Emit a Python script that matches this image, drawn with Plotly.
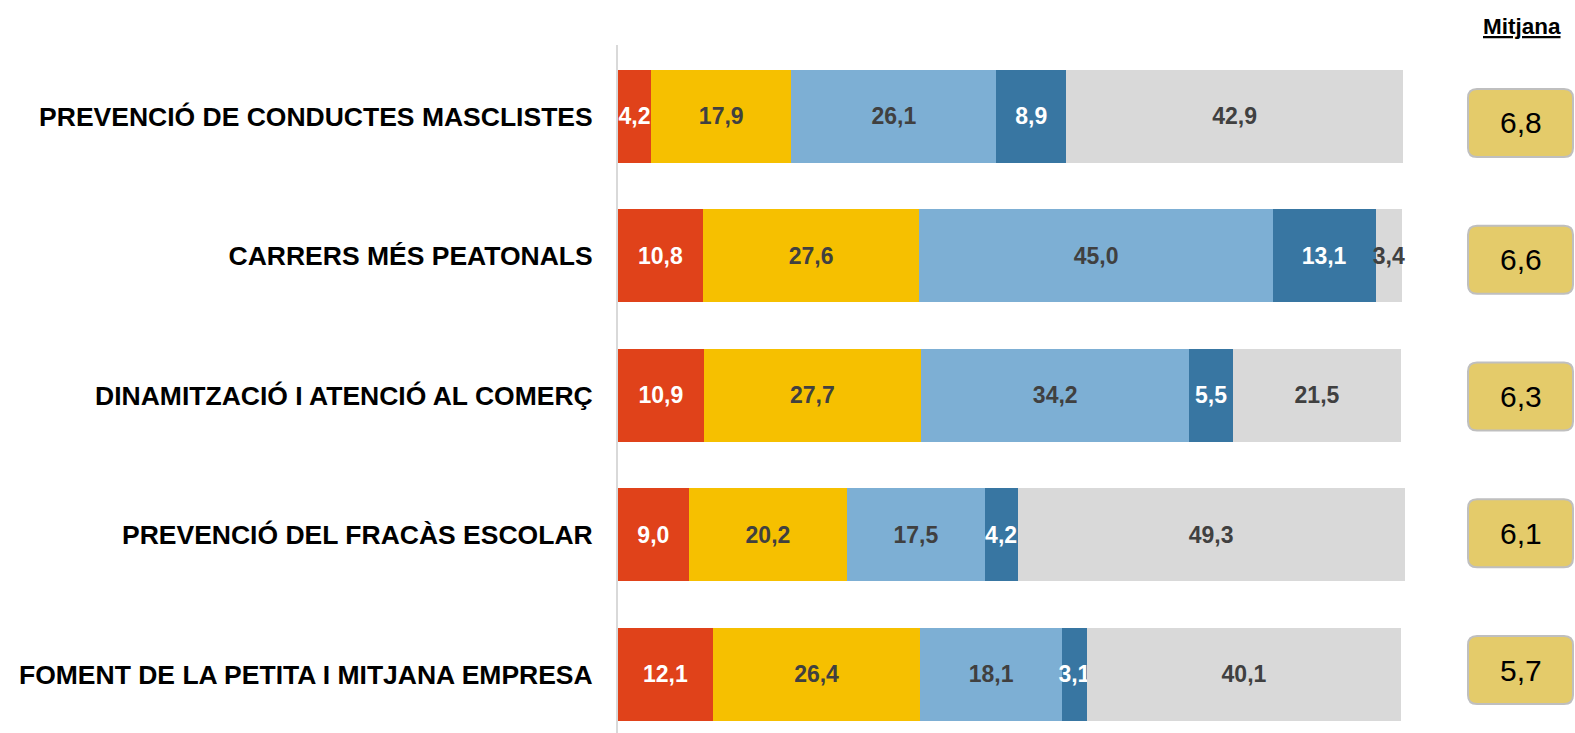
import plotly.graph_objects as go

categories = [
    "PREVENCIÓ DE CONDUCTES MASCLISTES",
    "CARRERS MÉS PEATONALS",
    "DINAMITZACIÓ I ATENCIÓ AL COMERÇ",
    "PREVENCIÓ DEL FRACÀS ESCOLAR",
    "FOMENT DE LA PETITA I MITJANA EMPRESA",
]
s1 = [4.2, 10.8, 10.9, 9.0, 12.1]
s2 = [17.9, 27.6, 27.7, 20.2, 26.4]
s3 = [26.1, 45.0, 34.2, 17.5, 18.1]
s4 = [8.9, 13.1, 5.5, 4.2, 3.1]
s5 = [42.9, 3.4, 21.5, 49.3, 40.1]
mitjana = [6.8, 6.6, 6.3, 6.1, 5.7]

series = [s1, s2, s3, s4, s5]
colors = ["#E0421A", "#F6C000", "#7DAFD4", "#3876A2", "#D9D9D9"]
text_colors = ["#FFFFFF", "#404040", "#404040", "#FFFFFF", "#404040"]

W, H = 1575, 733
ML, MT = 618, 45
plot_w = W - ML
plot_h = H - MT
px_per_pct = 7.85
FONT = "Liberation Sans, Arial, sans-serif"

fig = go.Figure()
for vals, c, tc in zip(series, colors, text_colors):
    fig.add_trace(go.Bar(
        x=vals, y=categories, orientation="h",
        marker=dict(color=c, line=dict(width=0)),
        width=0.665,
        texttemplate="%{x:.1f}",
        textposition="inside",
        insidetextanchor="middle",
        textangle=0,
        constraintext="none",
        cliponaxis=False,
        textfont=dict(family=FONT, size=23, color=tc, weight="bold"),
        hoverinfo="skip",
    ))

# y range in category units: row spacing 139.5 px, first centre at 116.3 px
row_step = 139.5
first_c = 116.3
y_top = (MT - first_c) / row_step
y_bot = (H - first_c) / row_step

shapes = []
annotations = []
box_x_px = 1520.5
box_first = 123.0
box_step = 136.75
r = 9
bw, bh = 52.5, 34
path = (f"M {-bw + r},{-bh} L {bw - r},{-bh} Q {bw},{-bh} {bw},{-bh + r} "
        f"L {bw},{bh - r} Q {bw},{bh} {bw - r},{bh} L {-bw + r},{bh} "
        f"Q {-bw},{bh} {-bw},{bh - r} L {-bw},{-bh + r} Q {-bw},{-bh} {-bw + r},{-bh} Z")
for i, m in enumerate(mitjana):
    cy = box_first + box_step * i
    py = (H - cy) / plot_h
    px = (box_x_px - ML) / plot_w
    shapes.append(dict(
        type="path", xref="paper", yref="paper",
        xsizemode="pixel", ysizemode="pixel",
        xanchor=px, yanchor=py, path=path,
        fillcolor="#E4CB6A", line=dict(color="#BFBFBF", width=2),
        layer="above",
    ))
    annotations.append(dict(
        xref="paper", yref="paper", x=px, y=py,
        text=f"{m:.1f}".replace(".", ","), showarrow=False,
        xanchor="center", yanchor="middle",
        font=dict(family=FONT, size=30, color="#000000"),
    ))

annotations.append(dict(
    xref="paper", yref="paper",
    x=(1522 - ML) / plot_w, y=(H - 27) / plot_h,
    text="<b><u>Mitjana</u></b>", showarrow=False,
    xanchor="center", yanchor="middle",
    font=dict(family=FONT, size=22.5, color="#000000"),
))

fig.update_layout(
    width=W, height=H,
    barmode="stack",
    separators=",.",
    showlegend=False,
    plot_bgcolor="white", paper_bgcolor="white",
    margin=dict(l=ML, r=0, t=MT, b=0, pad=0),
    uniformtext=dict(minsize=23, mode="show"),
    xaxis=dict(range=[0, plot_w / px_per_pct], visible=False, fixedrange=True),
    yaxis=dict(
        range=[y_bot, y_top], type="category",
        showline=True, linecolor="#D9D9D9", linewidth=2, layer="below traces",
        showgrid=False, zeroline=False, ticks="",
        ticklabelstandoff=18,
        tickfont=dict(family=FONT, size=26.5, color="#000000", weight="bold"),
    ),
    shapes=shapes,
    annotations=annotations,
    font=dict(family=FONT),
)

fig.write_html("out.html", config={"displayModeBar": False},
               post_script="document.body.style.margin='0';")
